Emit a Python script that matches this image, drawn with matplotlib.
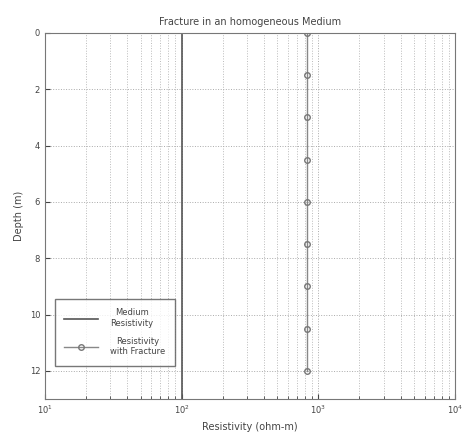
import matplotlib
matplotlib.use('Agg')
import matplotlib.pyplot as plt
import numpy as np

depth = [0, 13]
medium_res = [100, 100]
frac_depth = [0, 1.5, 3, 4.5, 6, 7.5, 9, 10.5, 12]
frac_res = [830, 830, 830, 830, 830, 830, 830, 830, 830]
yticks = [0, 2, 4, 6, 8, 10, 12]

fig = plt.figure(figsize=(4.64, 4.37), dpi=100)
ax = fig.add_axes([45/464, 1 - 399/437, 410/464, 366/437])

ax.plot(medium_res, depth, color='#555555', lw=1.2, label='Medium\nResistivity')
ax.plot(frac_res, frac_depth, color='#888888', lw=1.0, marker='o', ms=4,
        mfc='none', mec='#777777', label='Resistivity\nwith Fracture')

ax.set_xscale('log')
ax.set_xlim(10, 10000)
ax.set_ylim(13, 0)
ax.set_yticks(yticks)
ax.grid(True, which='major', ls=':', color='#aaaaaa', lw=0.7)
ax.grid(True, which='minor', axis='x', ls=':', color='#bbbbbb', lw=0.7)
ax.tick_params(labelsize=6, colors='#444444', direction='in', which='both')
for s in ax.spines.values():
    s.set_color('#777777')

ax.set_title('Fracture in an homogeneous Medium', fontsize=7, color='#444444')
ax.set_xlabel('Resistivity (ohm-m)', fontsize=7, color='#444444')
ax.set_ylabel('Depth (m)', fontsize=7, color='#444444')

leg = ax.legend(loc='lower left', fontsize=6, fancybox=False, edgecolor='#555555',
                handlelength=4, labelspacing=1.1, borderpad=1.1, handletextpad=1.5,
                bbox_to_anchor=(0.015, 0.08))
for t in leg.get_texts():
    t.set_ha('center')
    t.set_color('#444444')

fig.savefig('out.png', dpi=100)
